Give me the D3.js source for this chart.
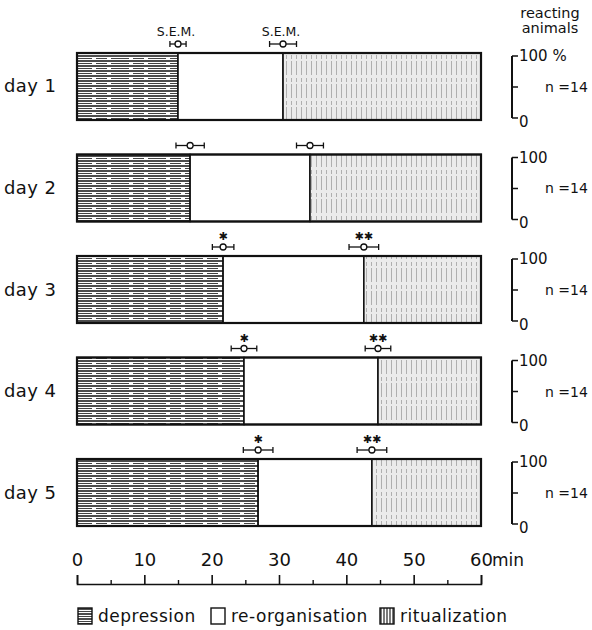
<!DOCTYPE html>
<html>
<head>
<meta charset="utf-8">
<script src="https://cdn.jsdelivr.net/npm/d3@7"></script>
<style>
  body { margin: 0; background: #fff; }
  text { font-family: "DejaVu Sans", sans-serif; fill: #111; }
</style>
</head>
<body>
<div class="graph"></div>
<script>
// Data (minutes)
var days = ["day 1", "day 2", "day 3", "day 4", "day 5"];
var depression = [15.0, 16.8, 21.7, 24.8, 26.9];
var reorganisation = [15.6, 17.8, 20.9, 19.9, 16.9];
var ritualization = [29.4, 25.4, 17.4, 15.3, 16.2];
var semDepression = [1.2, 2.1, 1.6, 1.9, 2.2];
var semRitual = [2.0, 2.0, 2.2, 1.9, 2.2];
var starsDepression = ["", "", "✱", "✱", "✱"];
var starsRitual = ["", "", "✱✱", "✱✱", "✱✱"];
var nAnimals = [14, 14, 14, 14, 14];
var timeTicks = [0, 10, 20, 30, 40, 50, 60];
var minorTicks = [5, 15, 25, 35, 45, 55];
var categories = ["depression", "re-organisation", "ritualization"];

// Configuration
var width = 592;
var height = 630;

var svg = d3.select(".graph").append("svg")
    .attr("width", width)
    .attr("height", height);

// Patterns
var defs = svg.append("defs");
var pDep = defs.append("pattern")
    .attr("id", "pDep")
    .attr("patternUnits", "userSpaceOnUse")
    .attr("width", 37).attr("height", 5);
pDep.append("rect").attr("width", 37).attr("height", 5).attr("fill", "#fff");
pDep.append("line").attr("x1", 0).attr("x2", 37).attr("y1", 1).attr("y2", 1)
    .attr("stroke", "#111").attr("stroke-width", 1.4);
pDep.append("line").attr("x1", 0).attr("x2", 37).attr("y1", 3.5).attr("y2", 3.5)
    .attr("stroke", "#444").attr("stroke-width", 1)
    .attr("stroke-dasharray", "18 4 11 4");

var pRit = defs.append("pattern")
    .attr("id", "pRit")
    .attr("patternUnits", "userSpaceOnUse")
    .attr("width", 5).attr("height", 23);
pRit.append("rect").attr("width", 5).attr("height", 23).attr("fill", "#ebebeb");
pRit.append("line").attr("x1", 1.5).attr("x2", 1.5).attr("y1", 0).attr("y2", 23)
    .attr("stroke", "#a0a0a0").attr("stroke-width", 0.8)
    .attr("stroke-dasharray", "6 3 4 2 8");

var pRitL = defs.append("pattern")
    .attr("id", "pRitL")
    .attr("patternUnits", "userSpaceOnUse")
    .attr("width", 3).attr("height", 20);
pRitL.append("rect").attr("width", 3).attr("height", 20).attr("fill", "#fff");
pRitL.append("line").attr("x1", 1).attr("x2", 1).attr("y1", 0).attr("y2", 20)
    .attr("stroke", "#222").attr("stroke-width", 1.2);

var fills = { "depression": "url(#pDep)", "re-organisation": "#fff", "ritualization": "url(#pRit)" };

// Scales
var x = d3.scaleLinear().domain([0, 60]).range([77, 481]);
var y = d3.scaleBand().domain(days).range([53, 526]).paddingInner(0.34).paddingOuter(0);
var pct = d3.scaleLinear().domain([0, 100]);

// Stack
var table = days.map(function (d, i) {
    return { day: d, "depression": depression[i], "re-organisation": reorganisation[i], "ritualization": ritualization[i] };
});
var series = d3.stack().keys(categories)(table);

series.forEach(function (s) {
    svg.append("g").selectAll("rect").data(s).enter().append("rect")
        .attr("x", function (d) { return x(d[0]); })
        .attr("y", function (d) { return y(d.data.day); })
        .attr("width", function (d) { return x(d[1]) - x(d[0]); })
        .attr("height", y.bandwidth())
        .attr("fill", fills[s.key])
        .attr("stroke", "#111")
        .attr("stroke-width", 1.6);
});

// Outer frame
svg.append("g").selectAll("rect").data(days).enter().append("rect")
    .attr("x", x(0)).attr("y", function (d) { return y(d); })
    .attr("width", x(60) - x(0)).attr("height", y.bandwidth())
    .attr("fill", "none").attr("stroke", "#111").attr("stroke-width", 2.2);

// Day labels
svg.append("g").selectAll("text").data(days).enter().append("text")
    .attr("x", 4)
    .attr("y", function (d) { return y(d) + y.bandwidth() / 2 + 6; })
    .attr("font-size", 18)
    .attr("letter-spacing", 0.4)
    .text(function (d) { return d; });

// Error bars (S.E.M.)
function errorBar(g, cx, cy, half) {
    g.append("line").attr("x1", cx - half).attr("x2", cx + half).attr("y1", cy).attr("y2", cy)
        .attr("stroke", "#111").attr("stroke-width", 1.3);
    [cx - half, cx + half].forEach(function (e) {
        g.append("line").attr("x1", e).attr("x2", e).attr("y1", cy - 3).attr("y2", cy + 3)
            .attr("stroke", "#111").attr("stroke-width", 1.3);
    });
    g.append("circle").attr("cx", cx).attr("cy", cy).attr("r", 3)
        .attr("fill", "#fff").attr("stroke", "#111").attr("stroke-width", 1.3);
}

var errG = svg.append("g");
days.forEach(function (d, i) {
    var top = y(d);
    var m1 = depression[i];
    var m2 = depression[i] + reorganisation[i];
    errorBar(errG, x(m1), top - 9, x(m1 + semDepression[i]) - x(m1));
    errorBar(errG, x(m2), top - 9, x(m2 + semRitual[i]) - x(m2));
    errG.append("text").attr("x", x(m1)).attr("y", top - 16)
        .attr("text-anchor", "middle").attr("font-size", 11).text(starsDepression[i]);
    errG.append("text").attr("x", x(m2)).attr("y", top - 16)
        .attr("text-anchor", "middle").attr("font-size", 11).text(starsRitual[i]);
    if (i === 0) {
        [m1, m2].forEach(function (m) {
            errG.append("text").attr("x", x(m) - 2).attr("y", top - 17)
                .attr("text-anchor", "middle").attr("font-size", 12.5).text("S.E.M.");
        });
    }
});

// Right-hand percentage axes
days.forEach(function (d, i) {
    pct.range([y(d) + y.bandwidth() - 2, y(d) + 3]);
    var g = svg.append("g").attr("transform", "translate(512,0)");
    g.append("line").attr("x1", 0).attr("x2", 0).attr("y1", pct(0)).attr("y2", pct(100))
        .attr("stroke", "#111").attr("stroke-width", 2);
    g.selectAll("line.tk").data([0, 50, 100]).enter().append("line")
        .attr("class", "tk")
        .attr("x1", 0).attr("x2", 6)
        .attr("y1", function (v) { return pct(v); })
        .attr("y2", function (v) { return pct(v); })
        .attr("stroke", "#111").attr("stroke-width", 1.5);
    g.append("text").attr("x", 7).attr("y", pct(100) + 5).attr("font-size", 15)
        .text(i === 0 ? "100 %" : "100");
    g.append("text").attr("x", 7).attr("y", pct(0) + 9).attr("font-size", 15).text("0");
    g.append("text").attr("x", 33).attr("y", pct(50) + 5).attr("font-size", 14)
        .text("n =" + nAnimals[i]);
});

svg.append("text").attr("x", 550).attr("y", 18).attr("text-anchor", "middle")
    .attr("font-size", 14.5).text("reacting");
svg.append("text").attr("x", 550).attr("y", 33).attr("text-anchor", "middle")
    .attr("font-size", 14.5).text("animals");

// Time axis
var axisY = 584;
var xAxis = d3.axisTop(x).tickValues(timeTicks).tickSize(9).tickSizeOuter(9).tickPadding(9);
var gx = svg.append("g").attr("transform", "translate(0," + axisY + ")").call(xAxis);
gx.selectAll("text").attr("font-size", 18).attr("fill", "#111")
    .style("font-family", "DejaVu Sans, sans-serif");
gx.selectAll("line, path").attr("stroke", "#111").attr("stroke-width", 1.6);

var gm = svg.append("g").attr("transform", "translate(0," + axisY + ")")
    .call(d3.axisTop(x).tickValues(minorTicks).tickSize(4).tickFormat(""));
gm.select(".domain").remove();
gm.selectAll("line").attr("stroke", "#111").attr("stroke-width", 1.4);

svg.append("text").attr("x", 492).attr("y", 566).attr("font-size", 17).text("min");

// Legend
var legendX = [78, 211, 380];
var legend = svg.append("g").selectAll("g").data(categories).enter().append("g")
    .attr("transform", function (d, i) { return "translate(" + legendX[i] + ",608)"; });
legend.append("rect").attr("width", 14).attr("height", 16)
    .attr("fill", function (d) { return d === "ritualization" ? "url(#pRitL)" : fills[d]; })
    .attr("stroke", "#111").attr("stroke-width", 1.4);
legend.append("text").attr("x", 20).attr("y", 14).attr("font-size", 17)
    .attr("letter-spacing", 0.5)
    .text(function (d) { return d; });
</script>
</body>
</html>
